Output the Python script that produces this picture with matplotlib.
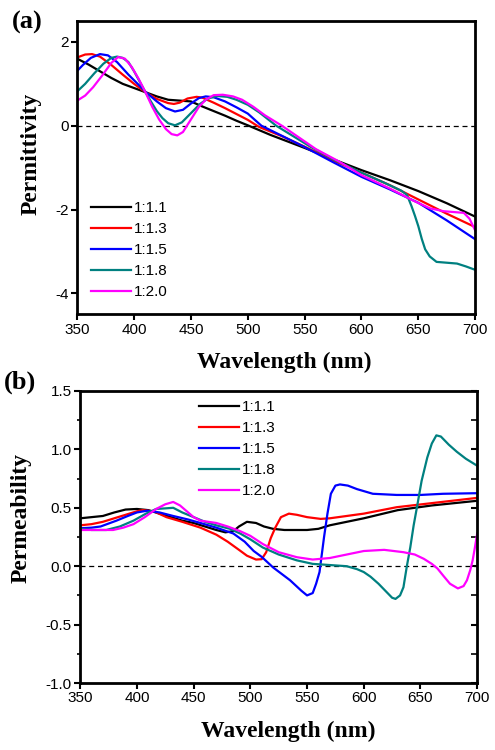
import matplotlib
matplotlib.use("Agg")
import matplotlib.pyplot as plt
from matplotlib.ticker import MultipleLocator, FormatStrFormatter

plt.rcParams['font.family'] = ['Liberation Sans', 'DejaVu Sans']
plt.rcParams['axes.unicode_minus'] = False

labels = ['1:1.1', '1:1.3', '1:1.5', '1:1.8', '1:2.0']
colors = ['#000000', '#ff0000', '#0000ff', '#008080', '#ff00ff']

# (a) permittivity
a_wl_11 = [350, 360, 370, 380, 390, 400, 410, 420, 430, 440, 450, 460, 470, 480, 490, 500,
           520, 550, 575, 600, 625, 650, 675, 700]
a_eps_11 = [1.60, 1.46, 1.30, 1.14, 1.00, 0.90, 0.80, 0.70, 0.62, 0.60, 0.58, 0.46, 0.35, 0.24,
            0.12, 0.01, -0.22, -0.53, -0.80, -1.06, -1.30, -1.56, -1.85, -2.17]
a_wl_13 = [350, 357, 363, 370, 380, 390, 400, 410, 420, 430, 435, 440, 447, 455, 460, 470, 480,
           490, 500, 510, 530, 550, 575, 600, 625, 650, 675, 700]
a_eps_13 = [1.63, 1.70, 1.71, 1.65, 1.45, 1.22, 1.00, 0.80, 0.64, 0.54, 0.52, 0.55, 0.65, 0.69,
            0.67, 0.55, 0.42, 0.28, 0.14, -0.03, -0.25, -0.50, -0.83, -1.12, -1.42, -1.76,
            -2.10, -2.42]
a_wl_15 = [350, 355, 362, 370, 377, 385, 395, 405, 410, 420, 428, 436, 443, 450, 457, 463, 470,
           480, 490, 500, 512, 530, 550, 575, 600, 625, 650, 675, 700]
a_eps_15 = [1.31, 1.45, 1.62, 1.71, 1.68, 1.52, 1.22, 0.95, 0.81, 0.58, 0.42, 0.34, 0.38, 0.53,
            0.66, 0.70, 0.68, 0.58, 0.44, 0.29, 0.0, -0.24, -0.51, -0.87, -1.22, -1.52, -1.84,
            -2.26, -2.71]
a_wl_18 = [350, 357, 365, 373, 380, 385, 390, 395, 400, 405, 410, 415, 420, 425, 430, 436, 442,
           450, 458, 465, 473, 482, 490, 500, 510, 525, 540, 555, 575, 600, 620, 635, 640, 644,
           647, 650, 653, 656, 660, 666, 675, 684, 692, 700]
a_eps_18 = [0.82, 1.00, 1.25, 1.48, 1.62, 1.65, 1.62, 1.52, 1.30, 1.05, 0.80, 0.57, 0.35, 0.18,
            0.06, 0.01, 0.08, 0.30, 0.52, 0.65, 0.71, 0.69, 0.62, 0.50, 0.32, 0.0, -0.25, -0.50,
            -0.80, -1.12, -1.36, -1.55, -1.65, -1.92, -2.15, -2.40, -2.70, -2.95, -3.12, -3.25,
            -3.27, -3.29, -3.36, -3.44]
a_wl_20 = [350, 357, 364, 372, 380, 386, 392, 398, 404, 410, 416, 422, 428, 433, 438, 443, 450,
           457, 463, 470, 478, 487, 495, 505, 515, 530, 545, 560, 580, 600, 625, 645, 660, 672,
           690, 695, 700]
a_eps_20 = [0.60, 0.72, 0.92, 1.20, 1.50, 1.64, 1.60, 1.40, 1.12, 0.80, 0.45, 0.15, -0.08, -0.20,
            -0.23, -0.15, 0.15, 0.45, 0.62, 0.73, 0.74, 0.70, 0.62, 0.45, 0.25, 0.0, -0.28,
            -0.56, -0.85, -1.18, -1.50, -1.78, -1.97, -2.04, -2.08, -2.22, -2.50]

# (b) permeability
b_wl_11 = [350, 360, 370, 380, 390, 400, 410, 420, 430, 440, 450, 460, 470, 478, 485, 490, 497,
           505, 512, 520, 530, 550, 560, 570, 600, 630, 660, 700]
b_mu_11 = [0.41, 0.42, 0.43, 0.46, 0.485, 0.49, 0.48, 0.45, 0.42, 0.39, 0.37, 0.34, 0.31, 0.29,
           0.30, 0.34, 0.38, 0.37, 0.34, 0.32, 0.31, 0.31, 0.32, 0.35, 0.41, 0.48, 0.52, 0.56]
b_wl_13 = [350, 360, 370, 380, 390, 400, 405, 415, 426, 440, 456, 470, 480, 490, 497, 505, 510,
           514, 518, 522, 527, 534, 541, 550, 562, 570, 600, 629, 660, 700]
b_mu_13 = [0.35, 0.36, 0.38, 0.41, 0.44, 0.47, 0.48, 0.47, 0.42, 0.38, 0.33, 0.27, 0.21, 0.14,
           0.09, 0.057, 0.06, 0.12, 0.24, 0.33, 0.42, 0.45, 0.44, 0.42, 0.405, 0.41, 0.45, 0.505,
           0.54, 0.585]
b_wl_15 = [350, 360, 368, 382, 392, 400, 409, 420, 432, 445, 456, 470, 485, 495, 503, 510, 520,
           535, 545, 550, 555, 558, 561, 563, 565, 568, 571, 575, 579, 586, 594, 608, 629, 650,
           670, 700]
b_mu_15 = [0.325, 0.33, 0.34, 0.39, 0.43, 0.46, 0.475, 0.46, 0.43, 0.40, 0.37, 0.33, 0.28, 0.21,
           0.13, 0.08, -0.01, -0.12, -0.21, -0.25, -0.23, -0.15, -0.05, 0.10, 0.25, 0.45, 0.62,
           0.69, 0.70, 0.69, 0.66, 0.62, 0.61, 0.61, 0.62, 0.625]
b_wl_18 = [350, 360, 373, 385, 397, 408, 417, 425, 432, 440, 450, 460, 470, 482, 491, 500, 511,
           525, 541, 555, 570, 585, 594, 600, 606, 613, 620, 625, 628, 632, 635, 638, 641, 644,
           647, 651, 656, 660, 664, 668, 675, 682, 690, 700]
b_mu_18 = [0.32, 0.31, 0.31, 0.34, 0.39, 0.45, 0.49, 0.495, 0.50, 0.46, 0.42, 0.38, 0.35, 0.32,
           0.28, 0.23, 0.16, 0.10, 0.05, 0.02, 0.01, 0.0, -0.025, -0.05, -0.09, -0.15, -0.22,
           -0.27, -0.28, -0.25, -0.18, 0.0, 0.16, 0.35, 0.51, 0.73, 0.93, 1.05, 1.12, 1.11, 1.04,
           0.98, 0.92, 0.86]
b_wl_20 = [350, 360, 370, 379, 388, 397, 407, 417, 425, 432, 438, 444, 450, 456, 463, 470, 480,
           491, 500, 511, 525, 541, 555, 570, 585, 600, 618, 635, 645, 653, 660, 665, 670, 676,
           683, 688, 691, 694, 696, 698, 700]
b_mu_20 = [0.31, 0.31, 0.31, 0.31, 0.33, 0.36, 0.42, 0.49, 0.53, 0.55, 0.52, 0.47, 0.42, 0.39,
           0.38, 0.37, 0.34, 0.30, 0.26, 0.19, 0.12, 0.077, 0.057, 0.07, 0.10, 0.13, 0.14, 0.12,
           0.10, 0.063, 0.02, -0.02, -0.08, -0.15, -0.19, -0.17, -0.12, -0.03, 0.05, 0.16, 0.28]

a_series = [(a_wl_11, a_eps_11), (a_wl_13, a_eps_13), (a_wl_15, a_eps_15),
            (a_wl_18, a_eps_18), (a_wl_20, a_eps_20)]
b_series = [(b_wl_11, b_mu_11), (b_wl_13, b_mu_13), (b_wl_15, b_mu_15),
            (b_wl_18, b_mu_18), (b_wl_20, b_mu_20)]

serif_bold = dict(family=['Liberation Serif', 'DejaVu Serif'], weight='bold')

fig = plt.figure(figsize=(4.95, 7.5), dpi=100)
ax1 = fig.add_axes([0.156, 0.581, 0.804, 0.391])
ax2 = fig.add_axes([0.162, 0.0893, 0.802, 0.3894])


def style_axes(ax):
    for sp in ax.spines.values():
        sp.set_linewidth(2.0)
    ax.set_xlim(350, 700)
    ax.xaxis.set_major_locator(MultipleLocator(50))
    ax.tick_params(which='major', direction='out', length=4, width=1.5, labelsize=11, pad=2)
    ax.tick_params(which='minor', direction='out', length=2.5, width=1.2)
    ax.axhline(0, color='k', lw=0.9, ls=(0, (4, 3)), zorder=1)


legend_kw = dict(loc='upper left', frameon=False, fontsize=11, handlelength=2.6,
                 handletextpad=0.2, labelspacing=0.46, borderpad=0, borderaxespad=0)

for (x, y), c, lab in zip(a_series, colors, labels):
    ax1.plot(x, y, color=c, lw=1.6, label=lab)
style_axes(ax1)
ax1.set_ylim(-4.5, 2.5)
ax1.yaxis.set_major_locator(MultipleLocator(2))
ax1.legend(bbox_to_anchor=(0.035, 0.385), **legend_kw)

for (x, y), c, lab in zip(b_series, colors, labels):
    ax2.plot(x, y, color=c, lw=1.6, label=lab)
style_axes(ax2)
ax2.set_ylim(-1.0, 1.5)
ax2.yaxis.set_major_locator(MultipleLocator(0.5))
ax2.yaxis.set_minor_locator(MultipleLocator(0.25))
ax2.yaxis.set_major_formatter(FormatStrFormatter('%.1f'))
ax2.tick_params(axis='y', which='both', right=True)
ax2.legend(bbox_to_anchor=(0.30, 0.969), **legend_kw)

# right-side ticks of (b) point inward
for t in ax2.yaxis.get_major_ticks() + ax2.yaxis.get_minor_ticks():
    t.tick2line.set_marker(matplotlib.markers.TICKLEFT)
    t.tick2line.set_markersize(4)

fig.text(0.575, 1 - 362 / 750, 'Wavelength (nm)', ha='center', va='center', fontsize=17,
         **serif_bold)
fig.text(0.582, 1 - 731 / 750, 'Wavelength (nm)', ha='center', va='center', fontsize=17,
         **serif_bold)
fig.text(31 / 495, 1 - 154 / 750, 'Permittivity', rotation=90, ha='center', va='center',
         fontsize=17, **serif_bold)
fig.text(21 / 495, 1 - 518 / 750, 'Permeability', rotation=90, ha='center', va='center',
         fontsize=17, **serif_bold)
fig.text(0.024, 1 - 22 / 750, '(a)', ha='left', va='center', fontsize=19, **serif_bold)
fig.text(0.008, 1 - 382 / 750, '(b)', ha='left', va='center', fontsize=19, **serif_bold)

fig.savefig('out.png', dpi=100)
